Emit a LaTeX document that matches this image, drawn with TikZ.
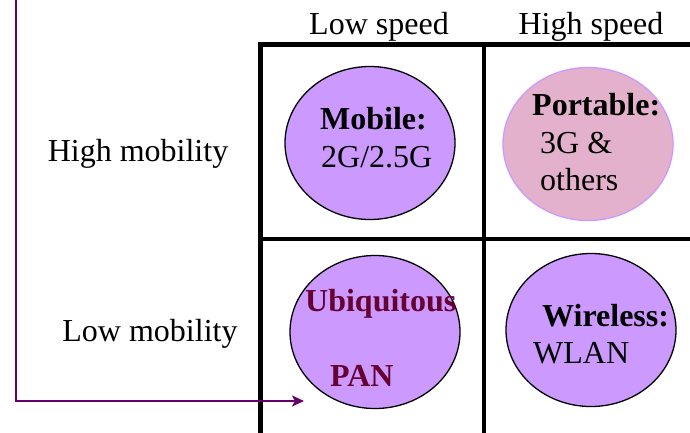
\documentclass[tikz,border=0pt]{standalone}
\usepackage{fontspec}
\setmainfont{Liberation Serif}
\usetikzlibrary{shapes.geometric,arrows.meta}
\definecolor{lilac}{HTML}{CC99FF}
\definecolor{rose}{HTML}{E4B1CC}
\definecolor{plum}{HTML}{660066}
\definecolor{maroon}{HTML}{660033}
\newcommand{\bigtext}{\fontsize{32}{37}\selectfont}
\tikzset{
  bubble/.style={ellipse, draw=black, line width=1.3pt, fill=lilac,
    minimum width=170pt, minimum height=153pt, inner sep=0pt},
  lbl/.style={anchor=base west, inner sep=0pt, font=\bigtext},
  boldlbl/.style={lbl, font=\bigtext\bfseries},
  hdr/.style={anchor=base, inner sep=0pt, font=\bigtext},
  frame/.style={line width=5pt, line cap=rect},
  divider/.style={line width=4.5pt},
  flow/.style={draw=plum, line width=2.8pt, -{Stealth[length=12pt,width=11pt,inset=3pt]}}
}
\begin{document}
\begin{tikzpicture}[x=1pt,y=-1pt]
\useasboundingbox (0,0) rectangle (690,432);

% grid frame and dividers
\coordinate (ftl) at (260,44);
\coordinate (ftr) at (692,44);
\coordinate (fbl) at (260,434);
\coordinate (mvt) at (484,44);
\coordinate (mvb) at (484,434);
\coordinate (mhl) at (260,239);
\coordinate (mhr) at (692,239);
\draw[frame] (ftr) -- (ftl) -- (fbl);
\draw[divider] (mvt) -- (mvb);
\draw[divider] (mhl) -- (mhr);

% column and row headings
\node[hdr] (lowspeed) at (379,34) {Low speed};
\node[hdr] (highspeed) at (591,34) {High speed};
\node[hdr] (highmob) at (138,161) {High mobility};
\node[hdr] (lowmob) at (150,341) {Low mobility};

% the four categories
\node[bubble] (mobile) at (370,143) {};
\node[bubble, fill=rose, draw=lilac] (portable) at (588,144) {};
\node[bubble] (ubiq) at (375,332) {};
\node[bubble] (wireless) at (591,330) {};

\node[boldlbl] (mobt) at (320,129) {Mobile:};
\node[lbl] (mobs) at (321,167) {2G/2.5G};

\node[boldlbl] (port) at (532,115) {Portable:};
\node[lbl] (ports1) at (540,153) {3G \&};
\node[lbl] (ports2) at (540,190) {others};

\node[boldlbl, text=maroon] (ubt) at (305,311) {Ubiquitous};
\node[boldlbl, text=maroon] (pan) at (330,386) {PAN};

\node[boldlbl] (wlt) at (542,326) {Wireless:};
\node[lbl] (wls) at (533,363) {WLAN};

% mobility arrow
\coordinate (arrstart) at (16,-2);
\coordinate (arrend) at (304,401);
\draw[flow] (arrstart) |- (arrend);
\end{tikzpicture}
\end{document}
